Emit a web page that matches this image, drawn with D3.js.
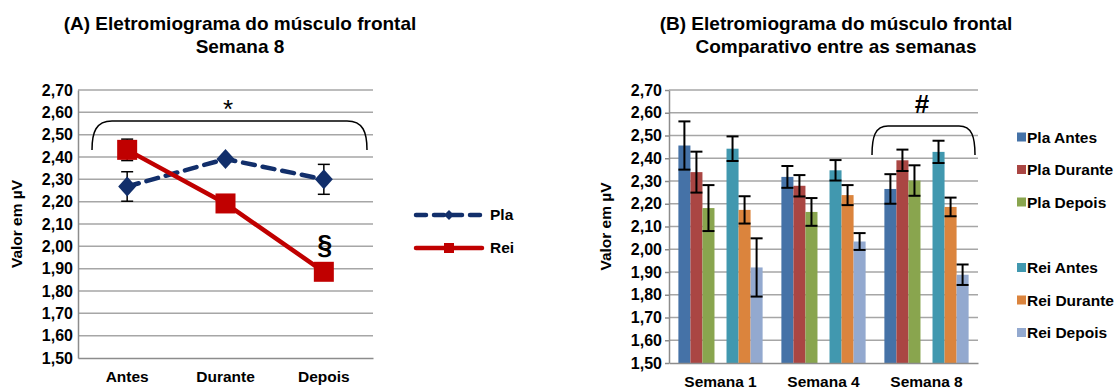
<!DOCTYPE html>
<html><head><meta charset="utf-8">
<script src="https://cdn.jsdelivr.net/npm/d3@7"></script>
<style>
body{margin:0;background:#fff;}
svg{display:block;font-family:"Liberation Sans",Arial,sans-serif;font-weight:bold;}
</style></head>
<body><svg id="c" width="1115" height="391"></svg>
<script>
// ---- Data ----
const yTicks = [1.5,1.6,1.7,1.8,1.9,2.0,2.1,2.2,2.3,2.4,2.5,2.6,2.7];
// Panel A (Semana 8)
const phases = ["Antes","Durante","Depois"];
const plaA = [2.268, 2.391, 2.300];
const plaAErr = [0.066, 0, 0.067];
const reiA = [2.432, 2.192, 1.886];
const reiAErr = [0.048, 0, 0];
// Panel B
const weeks = ["Semana 1","Semana 4","Semana 8"];
const seriesB = ["Pla Antes","Pla Durante","Pla Depois","","Rei Antes","Rei Durante","Rei Depois"];
const colorsB = ["#4572A7","#AA4643","#89A54E","#71588F","#4198AF","#DB843D","#93A9CF"];
const plaAntes = [2.456, 2.318, 2.265];
const plaAntesErr = [0.106, 0.048, 0.065];
const plaDurante = [2.339, 2.279, 2.391];
const plaDuranteErr = [0.090, 0.047, 0.047];
const plaDepois = [2.181, 2.164, 2.302];
const plaDepoisErr = [0.101, 0.061, 0.067];
const blank = [null, null, null];
const blankErr = [0, 0, 0];
const reiAntes = [2.442, 2.347, 2.428];
const reiAntesErr = [0.054, 0.045, 0.049];
const reiDurante = [2.173, 2.238, 2.186];
const reiDuranteErr = [0.060, 0.044, 0.041];
const reiDepois = [1.920, 2.034, 1.888];
const reiDepoisErr = [0.128, 0.037, 0.045];
const valuesB = [plaAntes, plaDurante, plaDepois, blank, reiAntes, reiDurante, reiDepois];
const errsB = [plaAntesErr, plaDuranteErr, plaDepoisErr, blankErr, reiAntesErr, reiDuranteErr, reiDepoisErr];

const svg = d3.select("#c");
const fmt = d => d.toFixed(2).replace(".", ",");
const GRID = "#a6a6a6", AXIS = "#8c8c8c";
const FS = 15.5, TFS = 16;

// ================= Panel A =================
const A = {l:78, r:373, t:90, b:358};
const yA = d3.scaleLinear().domain([1.5,2.7]).range([A.b, A.t]);
const xA = d3.scaleBand().domain(phases).range([A.l, A.r]);
const gA = svg.append("g");
gA.append("text").attr("x",240).attr("y",30).attr("text-anchor","middle").attr("font-size",19)
  .text("(A) Eletromiograma do músculo frontal");
gA.append("text").attr("x",240).attr("y",53).attr("text-anchor","middle").attr("font-size",19)
  .text("Semana 8");
gA.selectAll("line.grid").data(yTicks.slice(1)).join("line")
  .attr("x1",A.l).attr("x2",A.r).attr("y1",d=>yA(d)).attr("y2",d=>yA(d))
  .attr("stroke",GRID).attr("stroke-width",1.5);
const axA = gA.append("g").attr("transform",`translate(${A.l},0)`)
  .call(d3.axisLeft(yA).tickValues(yTicks).tickFormat(fmt).tickSize(0).tickPadding(5));
axA.select(".domain").attr("stroke",AXIS).attr("stroke-width",1.5);
axA.selectAll("text").attr("font-size",TFS).attr("fill","#000").attr("font-family","Liberation Sans, Arial").attr("font-weight","bold");
const bxA = gA.append("g").attr("transform",`translate(0,${A.b})`)
  .call(d3.axisBottom(xA).tickSize(0).tickPadding(13));
bxA.select(".domain").attr("stroke",AXIS).attr("stroke-width",1.5);
bxA.selectAll("text").attr("font-size",FS).attr("fill","#000").attr("font-family","Liberation Sans, Arial").attr("font-weight","bold");
gA.append("text").attr("transform",`translate(22,${(A.t+A.b)/2}) rotate(-90)`).attr("text-anchor","middle")
  .attr("font-size",FS).text("Valor em µV");

const cx = d => xA(d) + xA.bandwidth()/2;
function errBars(g, vals, errs, xs, cap){
  vals.forEach((v,i)=>{
    if(v==null || !errs[i]) return;
    const x = xs(i);
    g.append("line").attr("x1",x).attr("x2",x).attr("y1",yA(v+errs[i])).attr("y2",yA(v-errs[i])).attr("stroke","#000").attr("stroke-width",1.5);
    [v+errs[i], v-errs[i]].forEach(e=>g.append("line").attr("x1",x-cap).attr("x2",x+cap).attr("y1",yA(e)).attr("y2",yA(e)).attr("stroke","#000").attr("stroke-width",1.5));
  });
}
const PLA = "#122f6b", REI = "#c00000";
errBars(gA, plaA, plaAErr, i=>cx(phases[i]), 6);
errBars(gA, reiA, reiAErr, i=>cx(phases[i]), 6);
const lineA = d3.line().x((d,i)=>cx(phases[i])).y(d=>yA(d));
gA.append("path").attr("d",lineA(plaA)).attr("fill","none").attr("stroke",PLA).attr("stroke-width",4.5)
  .attr("stroke-dasharray","12,8").attr("stroke-linecap","round");
gA.append("path").attr("d",lineA(reiA)).attr("fill","none").attr("stroke",REI).attr("stroke-width",4.5);
const diamond = (x,y,w,h)=>`M${x},${y-h}L${x+w},${y}L${x},${y+h}L${x-w},${y}Z`;
gA.selectAll("path.dia").data(plaA).join("path").attr("class","dia")
  .attr("d",(d,i)=>diamond(cx(phases[i]), yA(d), 9, 10)).attr("fill",PLA);
gA.selectAll("rect.sq").data(reiA).join("rect").attr("class","sq")
  .attr("x",(d,i)=>cx(phases[i])-10).attr("y",d=>yA(d)-10).attr("width",20).attr("height",20).attr("fill",REI);
// bracket and marks
gA.append("path").attr("d",`M92,150 C92,132 96,121 112,121 L347,121 C363,121 367,132 367,150`)
  .attr("fill","none").attr("stroke","#000").attr("stroke-width",1.5);
gA.append("text").attr("x",228).attr("y",118).attr("text-anchor","middle").attr("font-size",26).attr("font-weight","normal").text("*");
gA.append("text").attr("x",cx("Depois")+1).attr("y",254).attr("text-anchor","middle").attr("font-size",27).text("§");
// legend A
const legA = gA.append("g");
legA.append("line").attr("x1",416).attr("x2",482).attr("y1",215).attr("y2",215).attr("stroke",PLA).attr("stroke-width",4.5)
  .attr("stroke-dasharray","10,8").attr("stroke-linecap","round");
legA.append("path").attr("d",diamond(449,215,5,5)).attr("fill",PLA);
legA.append("text").attr("x",490).attr("y",220).attr("font-size",FS).text("Pla");
legA.append("line").attr("x1",416).attr("x2",482).attr("y1",248).attr("y2",248).attr("stroke",REI).attr("stroke-width",4.5).attr("stroke-linecap","round");
legA.append("rect").attr("x",444).attr("y",243).attr("width",10).attr("height",10).attr("fill",REI);
legA.append("text").attr("x",490).attr("y",253).attr("font-size",FS).text("Rei");

// ================= Panel B =================
const B = {l:669, r:978, t:90, b:363};
const yB = d3.scaleLinear().domain([1.5,2.7]).range([B.b, B.t]);
const x0 = d3.scaleBand().domain(weeks).range([B.l, B.r]);
const x1 = d3.scaleBand().domain(d3.range(seriesB.length)).range([0, x0.bandwidth()]).paddingInner(0).paddingOuter(0.78);
const gB = svg.append("g");
gB.append("text").attr("x",836).attr("y",30).attr("text-anchor","middle").attr("font-size",19)
  .text("(B) Eletromiograma do músculo frontal");
gB.append("text").attr("x",836).attr("y",53).attr("text-anchor","middle").attr("font-size",19)
  .text("Comparativo entre as semanas");
gB.selectAll("line.grid").data(yTicks.slice(1)).join("line")
  .attr("x1",B.l).attr("x2",B.r).attr("y1",d=>yB(d)).attr("y2",d=>yB(d))
  .attr("stroke",GRID).attr("stroke-width",1.5);
const axB = gB.append("g").attr("transform",`translate(${B.l},0)`)
  .call(d3.axisLeft(yB).tickValues(yTicks).tickFormat(fmt).tickSizeInner(4).tickSizeOuter(0).tickPadding(3));
axB.select(".domain").attr("stroke",AXIS).attr("stroke-width",1.5);
axB.selectAll(".tick line").attr("stroke",AXIS).attr("stroke-width",1.5);
axB.selectAll("text").attr("font-size",TFS).attr("fill","#000").attr("font-family","Liberation Sans, Arial").attr("font-weight","bold");
gB.append("text").attr("transform",`translate(611,${(B.t+B.b)/2}) rotate(-90)`).attr("text-anchor","middle")
  .attr("font-size",FS).text("Valor em µV");

const bars = [];
weeks.forEach((w,wi)=>valuesB.forEach((arr,si)=>{ if(arr[wi]!=null) bars.push({w, si, v:arr[wi], e:errsB[si][wi]}); }));
gB.selectAll("rect.bar").data(bars).join("rect").attr("class","bar")
  .attr("x",d=>x0(d.w)+x1(d.si)).attr("width",x1.bandwidth())
  .attr("y",d=>yB(d.v)).attr("height",d=>yB(1.5)-yB(d.v)).attr("fill",d=>colorsB[d.si]);
const eb = gB.selectAll("g.eb").data(bars).join("g").attr("class","eb")
  .attr("transform",d=>`translate(${x0(d.w)+x1(d.si)+x1.bandwidth()/2},0)`);
eb.append("line").attr("y1",d=>yB(d.v+d.e)).attr("y2",d=>yB(d.v-d.e)).attr("stroke","#000").attr("stroke-width",2);
eb.append("line").attr("x1",-6).attr("x2",6).attr("y1",d=>yB(d.v+d.e)).attr("y2",d=>yB(d.v+d.e)).attr("stroke","#000").attr("stroke-width",2);
eb.append("line").attr("x1",-6).attr("x2",6).attr("y1",d=>yB(d.v-d.e)).attr("y2",d=>yB(d.v-d.e)).attr("stroke","#000").attr("stroke-width",2);
const bxB = gB.append("g").attr("transform",`translate(0,${B.b})`)
  .call(d3.axisBottom(x0).tickSize(0).tickPadding(13));
bxB.select(".domain").attr("stroke",AXIS).attr("stroke-width",1.5);
bxB.selectAll("text").attr("font-size",FS).attr("fill","#000").attr("font-family","Liberation Sans, Arial").attr("font-weight","bold");
// bracket & #
gB.append("path").attr("d",`M872,155 C872,137 875,126 888,126 L959,126 C972,126 975,137 975,155`)
  .attr("fill","none").attr("stroke","#000").attr("stroke-width",1.5);
gB.append("text").attr("x",922).attr("y",113).attr("text-anchor","middle").attr("font-size",26).text("#");
// legend B
const legY = [137,169.5,202,234.5,267.5,300,332.5];
seriesB.forEach((s,i)=>{
  if(!s) return;
  gB.append("rect").attr("x",1017).attr("y",legY[i]-4.5).attr("width",9).attr("height",9).attr("fill",colorsB[i]);
  gB.append("text").attr("x",1027).attr("y",legY[i]+5.5).attr("font-size",FS).text(s);
});
</script></body></html>
